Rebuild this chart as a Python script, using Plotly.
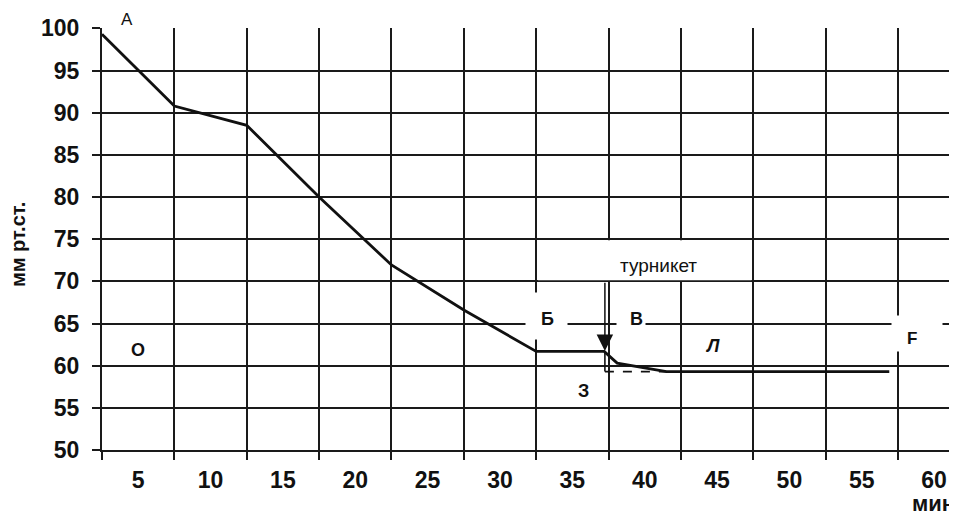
import plotly.graph_objects as go

# ---- data ----
time_min = [0, 5, 10, 15, 20, 25, 30, 34.7, 35.6, 39.0, 54.4]
pressure = [99.3, 90.8, 88.5, 80.0, 71.95, 66.6, 61.7, 61.7, 60.3, 59.3, 59.3]

zone_x = [34.75, 34.75]
zone_y = [61.7, 59.3]
zone_dash_x = [34.75, 39.0]
zone_dash_y = [59.3, 59.3]

x_tick_pos = [2.5, 7.5, 12.5, 17.5, 22.5, 27.5, 32.5, 37.5, 42.5, 47.5, 52.5, 57.5]
x_tick_text = ["5", "10", "15", "20", "25", "30", "35", "40", "45", "50", "55", "60"]
y_ticks = [50, 55, 60, 65, 70, 75, 80, 85, 90, 95, 100]

FONT = "Liberation Sans, Arial, sans-serif"
INK = "#111111"
GRID = "#1a1a1a"

fig = go.Figure()

fig.add_trace(go.Scatter(x=time_min, y=pressure, mode="lines",
                         line=dict(color=INK, width=2.8), hoverinfo="skip",
                         showlegend=False))
fig.add_trace(go.Scatter(x=zone_x, y=zone_y, mode="lines",
                         line=dict(color=INK, width=1.6), showlegend=False,
                         hoverinfo="skip"))
fig.add_trace(go.Scatter(x=zone_dash_x, y=zone_dash_y, mode="lines",
                         line=dict(color=INK, width=1.6, dash="dash"),
                         showlegend=False, hoverinfo="skip"))

# white box behind "турникет" (covers grid cell)
fig.add_shape(type="rect", xref="x", yref="y", x0=30.12, x1=44.88, y0=70.13, y1=74.87,
              fillcolor="white", line=dict(width=0), layer="above")

def box(x, y, w, h, xr="x", yr="y"):
    fig.add_annotation(x=x, y=y, xref=xr, yref=yr, text=" ", showarrow=False,
                       xanchor="center", yanchor="middle",
                       bgcolor="white", width=w, height=h, borderpad=0,
                       font=dict(size=10))

def label(x, y, text, size=16, bold=False, italic=False, ref="data", angle=0):
    xr, yr = ("x", "y") if ref == "data" else ("paper", "paper")
    t = text
    if bold:
        t = "<b>" + t + "</b>"
    if italic:
        t = "<i>" + t + "</i>"
    fig.add_annotation(x=x, y=y, xref=xr, yref=yr, text=t, showarrow=False,
                       textangle=angle, xanchor="center", yanchor="middle",
                       font=dict(family=FONT, size=size, color=INK))

# white label boxes (gaps in the grid)
box(30.68, 65.84, 41, 46)
box(36.56, 65.5, 28, 30)
box(56.32, 63.76, 50, 35)
box(0.0234, 100.0, 34, 12, xr="paper", yr="y")

label(0.0298, 1.0213, "A", 17, ref="paper")
label(38.42, 71.83, "турникет", 19)
label(30.75, 65.48, "Б", 18, bold=True)
label(36.9, 65.5, "В", 18, bold=True)
label(42.2, 62.34, "Л", 18, bold=True, italic=True)
label(55.98, 63.17, "F", 17, bold=True)
label(2.49, 61.92, "О", 18, bold=True)
label(33.28, 57.0, "З", 18, bold=True)

# tourniquet arrow
fig.add_annotation(x=34.75, y=61.75, ax=34.75, ay=70.0, xref="x", yref="y",
                   axref="x", ayref="y", text="", showarrow=True,
                   arrowhead=2, arrowsize=2.2, arrowwidth=1.5, arrowcolor=INK,
                   standoff=0, startstandoff=0)

# axis titles
label(-0.0982, 0.4858, "мм рт.ст.", 20, bold=True, ref="paper", angle=-90)
label(0.972, -0.127, "мин", 22, bold=True, ref="paper")

fig.update_layout(
    width=949, height=508, autosize=False,
    margin=dict(l=94, r=0, t=20, b=66),
    paper_bgcolor="white", plot_bgcolor="white",
    showlegend=False,
    font=dict(family=FONT, color=INK),
    xaxis=dict(
        range=[0, 59.08], tickmode="array", tickvals=x_tick_pos,
        ticktext=[f"<b>{t}</b>" for t in x_tick_text],
        ticks="", showgrid=False, zeroline=False,
        showline=True, linecolor=GRID, linewidth=2,
        tickfont=dict(family=FONT, size=23, color=INK),
        ticklabelstandoff=8, automargin=False,
        minor=dict(tickmode="linear", tick0=0, dtick=5, ticks="outside", ticklen=8,
                   tickwidth=2, tickcolor=GRID, showgrid=True, gridcolor=GRID,
                   gridwidth=2),
    ),
    yaxis=dict(
        range=[50, 100.05], tickmode="array", tickvals=y_ticks,
        ticktext=[f"<b>{v}</b>" for v in y_ticks],
        ticks="outside", ticklen=8, tickwidth=2, tickcolor=GRID,
        showgrid=True, gridcolor=GRID, gridwidth=2, zeroline=False,
        showline=True, linecolor=GRID, linewidth=2,
        tickfont=dict(family=FONT, size=23, color=INK),
        ticklabelstandoff=8, automargin=False,
    ),
)

fig.write_html("out.html")
